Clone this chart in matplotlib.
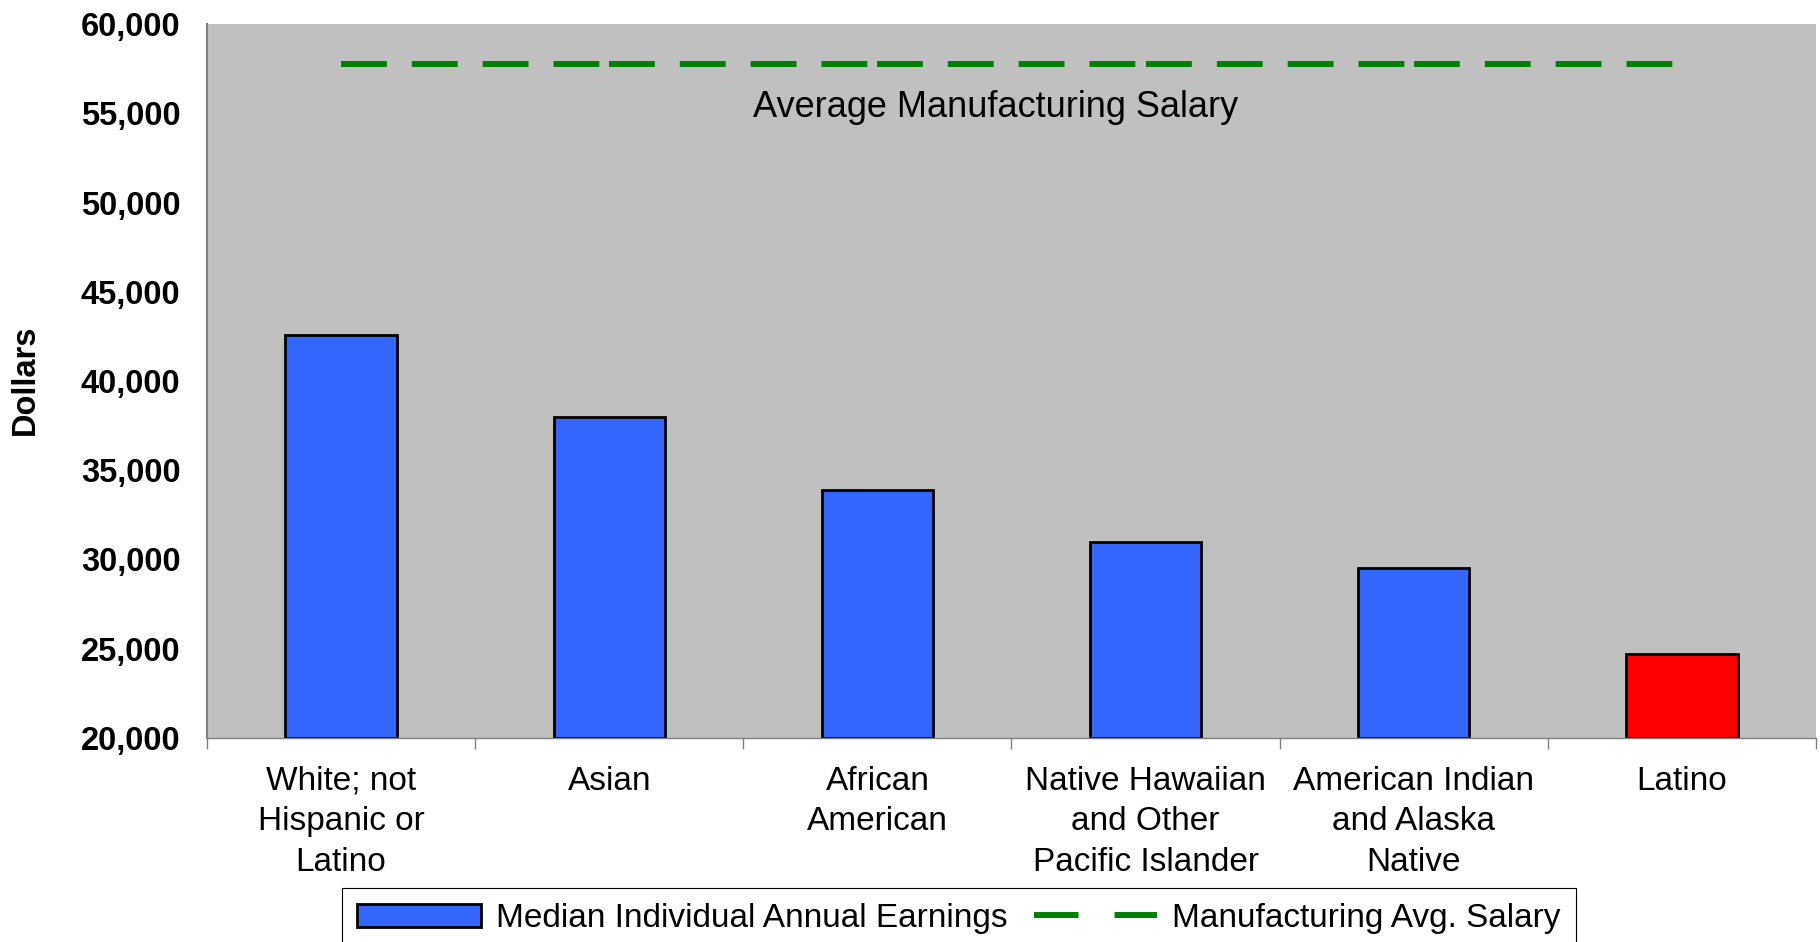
import matplotlib
matplotlib.use("Agg")
import matplotlib.pyplot as plt
from matplotlib.patches import Patch
from matplotlib.lines import Line2D
from matplotlib.ticker import FuncFormatter, FixedLocator

plt.rcParams['font.family'] = ['Liberation Sans', 'DejaVu Sans']
plt.rcParams['lines.scale_dashes'] = False

# Data
groups = [
    "White; not\nHispanic or\nLatino",
    "Asian",
    "African\nAmerican",
    "Native Hawaiian\nand Other\nPacific Islander",
    "American Indian\nand Alaska\nNative",
    "Latino",
]
median_earnings = [42550, 38000, 33900, 31000, 29500, 24700]
avg_mfg_salary = [57750, 57750, 57750, 57750, 57750, 57750]
y_ticks = [20000, 25000, 30000, 35000, 40000, 45000, 50000, 55000, 60000]

Y_MIN, Y_MAX = 20000, 60000
BLUE = "#3366FF"
RED = "#FF0000"
GREEN = "#008000"
GRAY_BG = "#C0C0C0"
FS = 24

fig = plt.figure(figsize=(18.2, 9.42), dpi=100)
ax = fig.add_axes([207 / 1820, 1 - 738 / 942, (1816 - 207) / 1820, (738 - 24) / 942])
ax.set_facecolor(GRAY_BG)

x = list(range(len(groups)))
colors = [BLUE] * (len(groups) - 1) + [RED]
ax.bar(x, [v - Y_MIN for v in median_earnings], bottom=Y_MIN, width=0.415,
       color=colors, edgecolor="black", linewidth=2.0, zorder=2)

# Average salary line, dash pattern restarting at every category
for i in range(len(x) - 1):
    ax.plot([x[i], x[i + 1]], [avg_mfg_salary[i], avg_mfg_salary[i + 1]],
            color=GREEN, linewidth=4.3, dashes=(33, 18), dash_capstyle="butt",
            solid_capstyle="butt", zorder=3)

ax.text(2.44, 55350, "Average Manufacturing Salary", fontsize=26,
        ha="center", va="center", color="black")

ax.set_xlim(-0.5, len(groups) - 0.5)
ax.set_ylim(Y_MIN, Y_MAX)

ax.set_yticks(y_ticks)
ax.yaxis.set_major_formatter(FuncFormatter(lambda v, p: f"{int(v):,}"))
ax.tick_params(axis="y", length=0, pad=19, labelsize=23.5)
for lbl in ax.get_yticklabels():
    lbl.set_fontweight("bold")

ax.set_xticks(x)
ax.set_xticklabels(groups, fontsize=FS, linespacing=1.40)
ax.xaxis.set_minor_locator(FixedLocator([i - 0.5 for i in range(len(groups) + 1)]))
ax.tick_params(axis="x", which="major", length=0, pad=20)
ax.tick_params(axis="x", which="minor", length=8, width=1, color="#808080", direction="out")

for s in ("top", "right"):
    ax.spines[s].set_visible(False)
ax.spines["left"].set_color("#808080")
ax.spines["left"].set_linewidth(1.5)
ax.spines["bottom"].set_color("#808080")
ax.spines["bottom"].set_linewidth(1.0)

fig.text(25.5 / 1820, 1 - 380 / 942, "Dollars", rotation=90, fontsize=23.5,
         fontweight="bold", ha="center", va="center")

handles = [
    Patch(facecolor=BLUE, edgecolor="black", linewidth=2.0),
    Line2D([], [], color=GREEN, linewidth=4.3, dashes=(32, 26)),
]
labels = ["Median Individual Annual Earnings", "Manufacturing Avg. Salary"]
leg = fig.legend(handles, labels, loc="upper center", ncol=2,
                 bbox_to_anchor=(959 / 1820, 1 - 888 / 942),
                 fontsize=FS, frameon=True, fancybox=False, framealpha=1,
                 edgecolor="black", handlelength=3.7, handletextpad=0.45,
                 columnspacing=0.8, borderpad=0.45, borderaxespad=0)
leg.get_frame().set_linewidth(0.8)

fig.savefig("out.png", dpi=100)
